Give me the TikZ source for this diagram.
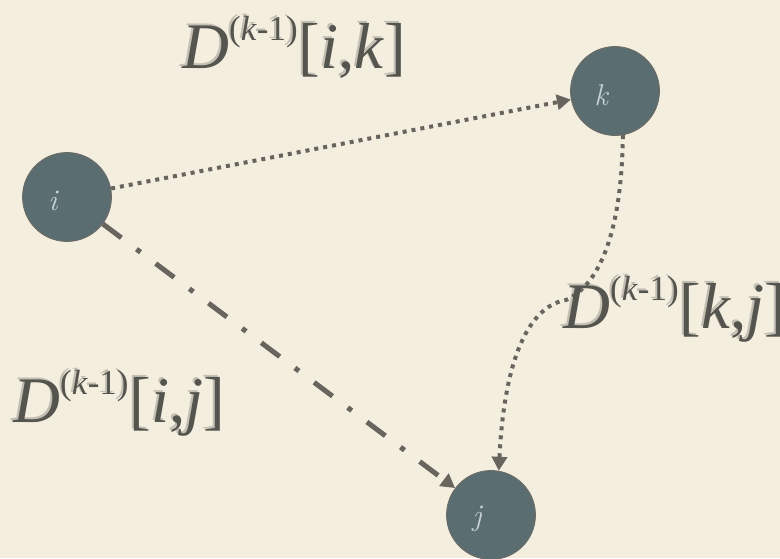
\documentclass[tikz,border=0pt]{standalone}
\usepackage{fontspec}
\newfontfamily\labelfont{Liberation Serif}
\usetikzlibrary{arrows.meta}
\definecolor{bg}{HTML}{F4EEDF}
\definecolor{nodefill}{HTML}{5A6E72}
\definecolor{nodeline}{HTML}{6E6B62}
\definecolor{edgecol}{HTML}{68655E}
\definecolor{bigtext}{HTML}{55554F}
\definecolor{smalltext}{HTML}{C8D2D3}
\newcommand{\dlabel}[2]{\textit{D}\raisebox{0.42em}{\fontsize{35}{35}\selectfont(\textit{k}-1)}\kern1pt[\textit{#1},\textit{#2}]}
\tikzset{
  vertex/.style={circle, fill=nodefill, draw=nodeline, line width=0.8pt, minimum size=89pt, inner sep=0pt},
  vlabel/.style={text=smalltext, font=\fontsize{30}{32}\selectfont\itshape, xshift=-14pt, yshift=-4pt},
  tip/.style={-{Triangle[length=14pt,width=15pt,fill=edgecol]}},
  dotline/.style={tip, draw=edgecol, line width=4pt, dash pattern=on 4pt off 5pt},
  dashdotline/.style={tip, draw=edgecol, line width=5pt, dash pattern=on 23pt off 19pt on 5pt off 19pt},
  biglabel/.style={anchor=base west, inner sep=0pt, text=bigtext, font=\labelfont\fontsize{65}{70}\selectfont},
  bigshadow/.style={biglabel, text=bigtext, opacity=0.3}
}
\begin{document}
\begin{tikzpicture}[x=1pt,y=-1pt]
\fill[bg] (0,0) rectangle (780,558);
\useasboundingbox (0,0) rectangle (780,558);

\node[vertex, label={[vlabel]center:i}] (i) at (67,197) {};
\node[vertex, label={[vlabel]center:k}] (k) at (615,91) {};
\node[vertex, label={[vlabel]center:j}] (j) at (491,515) {};

\draw[dotline] (i) -- (k);
\draw[dashdotline] (i) -- (j);
\draw[dotline] (k.-80) .. controls (622,230) and (600,285) .. (566,300)
                      .. controls (535,305) and (505,345) .. (j.80);

\node[bigshadow] (ikS) at (180,66) {\dlabel{i}{k}};
\node[biglabel] (ik) at (182,68) {\dlabel{i}{k}};
\node[bigshadow] (kjS) at (561,326) {\dlabel{k}{j}};
\node[biglabel] (kj) at (563,328) {\dlabel{k}{j}};
\node[bigshadow] (ijS) at (11,420) {\dlabel{i}{j}};
\node[biglabel] (ij) at (13,422) {\dlabel{i}{j}};
\end{tikzpicture}
\end{document}
